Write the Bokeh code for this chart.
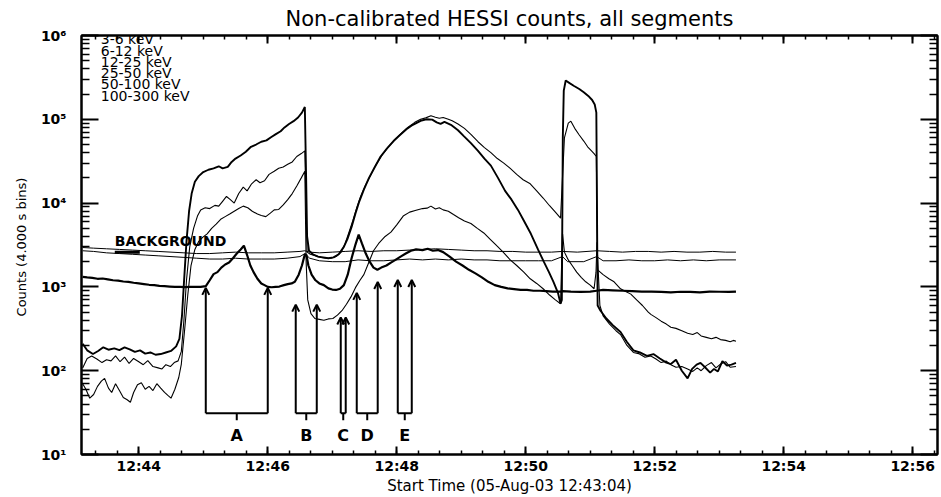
from bokeh.plotting import figure
from bokeh.models import Range1d, FixedTicker, LinearAxis, LogAxis, Arrow, OpenHead, ColumnDataSource
from bokeh.core.properties import value
from bokeh.embed import file_html
from bokeh.resources import INLINE

FONT = "DejaVu Sans"

# ---------------- data (time in decimal minutes after 12:00 UT, counts per 4 s bin) -------------
t_3_6 = [43.13, 43.20, 43.29, 43.37, 43.45, 43.53, 43.62, 43.70, 43.78, 43.86, 43.94, 44.02, 44.10, 44.18,
         44.26, 44.34, 44.42, 44.50, 44.58, 44.63, 44.67, 44.70, 44.74, 44.78, 44.82, 44.87, 44.93, 45.00,
         45.08, 45.16, 45.24, 45.30, 45.38, 45.44, 45.50, 45.58, 45.66, 45.74, 45.82, 45.90, 45.98, 46.05,
         46.12, 46.20, 46.26, 46.33, 46.40, 46.47, 46.53, 46.575, 46.595, 46.61, 46.64, 46.70, 46.78, 46.86,
         46.94, 47.02, 47.10, 47.18, 47.24, 47.30, 47.36, 47.42, 47.49, 47.57, 47.65, 47.75, 47.85, 47.95,
         48.05, 48.15, 48.25, 48.37, 48.46, 48.55, 48.62, 48.68, 48.74, 48.84, 48.95, 49.04, 49.15, 49.26,
         49.36, 49.46, 49.57, 49.68, 49.78, 49.88, 49.98, 50.08, 50.19, 50.28, 50.36, 50.43, 50.50, 50.54,
         50.56, 50.575, 50.59, 50.62, 50.68, 50.75, 50.83, 50.90, 50.97, 51.03, 51.07, 51.095, 51.115, 51.16,
         51.25, 51.35, 51.47, 51.57, 51.67, 51.77, 51.88, 51.98, 52.08, 52.18, 52.25, 52.33, 52.42, 52.51,
         52.58, 52.65, 52.71, 52.78, 52.86, 52.92, 52.98, 53.05, 53.12, 53.19, 53.26]
c_3_6 = [210, 175, 158, 172, 190, 178, 185, 176, 190, 180, 168, 175, 160, 165,
         155, 158, 165, 172, 195, 240, 450, 1100, 3500, 8000, 13000, 18000, 21000, 23500,
         25000, 26000, 27500, 26000, 27000, 31000, 34000, 37000, 41000, 47000, 50000, 54000, 56000, 61000,
         66000, 72000, 80000, 88000, 95000, 105000, 120000, 140000, 20000, 4000, 2700, 2450, 2300, 2250,
         2200, 2250, 2450, 3000, 3800, 5200, 7500, 10500, 14500, 20000, 26000, 36000, 45000, 55000,
         65000, 76000, 86000, 96000, 100000, 99000, 92000, 88000, 93000, 86000, 74000, 63000, 52000, 42000,
         34000, 28000, 20000, 14000, 11000, 8300, 6000, 4300, 2800, 2000, 1500, 1150, 850, 630,
         700, 60000, 220000, 290000, 270000, 250000, 230000, 210000, 190000, 170000, 150000, 120000, 600, 520,
         420, 350, 290, 220, 175, 165, 150, 158, 140, 125, 120, 135, 100, 81,
         105, 118, 124, 110, 95, 105, 98, 130, 115, 118, 124]

t_6_12 = [43.13, 43.20, 43.27, 43.35, 43.43, 43.50, 43.57, 43.64, 43.71, 43.78, 43.85, 43.92, 44.00, 44.07,
          44.14, 44.22, 44.30, 44.36, 44.42, 44.49, 44.55, 44.61, 44.66, 44.70, 44.74, 44.79, 44.85, 44.91,
          44.96, 45.03, 45.10, 45.18, 45.24, 45.30, 45.36, 45.42, 45.48, 45.55, 45.62, 45.68, 45.75, 45.82,
          45.88, 45.95, 46.02, 46.10, 46.17, 46.24, 46.31, 46.38, 46.45, 46.52, 46.575, 46.595, 46.61, 46.66,
          46.74, 46.82, 46.90, 46.98, 47.06, 47.14, 47.20, 47.26, 47.32, 47.38, 47.44, 47.51, 47.59, 47.67,
          47.77, 47.87, 47.97, 48.07, 48.17, 48.28, 48.37, 48.45, 48.53, 48.60, 48.66, 48.72, 48.80, 48.86,
          48.95, 49.05, 49.15, 49.26, 49.36, 49.46, 49.56, 49.66, 49.76, 49.86, 49.96, 50.07, 50.17, 50.27,
          50.37, 50.46, 50.54, 50.57, 50.60, 50.66, 50.70, 50.76, 50.83, 50.90, 50.96, 51.02, 51.06, 51.095,
          51.115, 51.20, 51.29, 51.37, 51.47, 51.55, 51.63, 51.72, 51.81, 51.90, 51.94, 52.02, 52.10, 52.18,
          52.25, 52.33, 52.42, 52.51, 52.59, 52.66, 52.72, 52.80, 52.88, 52.95, 53.02, 53.10, 53.17, 53.22, 53.26]
c_6_12 = [108, 140, 150, 138, 125, 135, 131, 150, 128, 145, 122, 140, 128, 118,
          132, 112, 108, 105, 118, 112, 125, 131, 170, 400, 1200, 3000, 5000, 7000,
          8300, 8800, 8600, 9400, 9200, 10500, 12000, 11000, 10000, 13000, 15500, 14000, 17000, 19000,
          17500, 18500, 22000, 24000, 26000, 27000, 29000, 31000, 36000, 39000, 42000, 8000, 2600, 2450,
          2350, 2250, 2200, 2200, 2300, 2600, 3300, 4500, 6200, 8800, 12000, 16000, 21000, 28000,
          37000, 47000, 57000, 68000, 80000, 92000, 100000, 104000, 110000, 106000, 103000, 105000, 100000, 96000,
          88000, 78000, 66000, 54000, 46000, 40000, 34000, 30000, 26000, 22000, 19000, 17000, 14000, 11500,
          9300, 7800, 6600, 20000, 60000, 90000, 95000, 78000, 65000, 55000, 47000, 42000, 39000, 36000,
          1600, 1400, 1250, 1150, 950, 880, 820, 700, 600, 500, 470, 430, 390, 360,
          330, 320, 300, 280, 270, 285, 260, 250, 240, 250, 235, 230, 222, 230, 225]

t_12_25 = [43.13, 43.18, 43.24, 43.30, 43.36, 43.42, 43.47, 43.53, 43.58, 43.64, 43.70, 43.76, 43.82, 43.87,
           43.92, 43.98, 44.04, 44.10, 44.16, 44.22, 44.28, 44.34, 44.40, 44.46, 44.50, 44.56, 44.62, 44.66,
           44.71, 44.76, 44.81, 44.87, 44.93, 44.99, 45.06, 45.13, 45.20, 45.27, 45.34, 45.41, 45.48, 45.55,
           45.62, 45.69, 45.76, 45.84, 45.90, 45.97, 46.04, 46.10, 46.17, 46.24, 46.31, 46.38, 46.45, 46.52,
           46.575, 46.595, 46.62, 46.67, 46.73, 46.80, 46.87, 46.94, 47.01, 47.08, 47.15, 47.22, 47.29, 47.36,
           47.43, 47.49, 47.56, 47.64, 47.72, 47.82, 47.91, 48.00, 48.10, 48.20, 48.30, 48.40, 48.47, 48.53,
           48.60, 48.66, 48.72, 48.80, 48.88, 48.96, 49.05, 49.15, 49.25, 49.35, 49.45, 49.55, 49.65, 49.76,
           49.86, 49.97, 50.07, 50.17, 50.27, 50.37, 50.46, 50.54, 50.57, 50.60, 50.66, 50.72, 50.79, 50.86,
           50.93, 51.00, 51.06, 51.09, 51.105, 51.12, 51.15, 51.20, 51.30, 51.40, 51.47, 51.57, 51.67, 51.75,
           51.85, 51.94, 52.02, 52.10, 52.18, 52.25, 52.33, 52.42, 52.51, 52.59, 52.66, 52.72, 52.80, 52.88,
           52.95, 53.02, 53.10, 53.17, 53.26]
c_12_25 = [70, 60, 47, 52, 65, 75, 81, 62, 55, 70, 58, 48, 45, 42,
           55, 68, 72, 60, 65, 58, 70, 62, 55, 50, 47, 60, 83, 120,
           300, 800, 1800, 2800, 3500, 3900, 4300, 5000, 5600, 6400, 6900, 7400, 8000, 8600,
           9200, 8800, 8000, 7400, 7100, 6900, 7600, 8300, 8400, 9500, 11000, 13000, 16000, 20000,
           24000, 2000, 700, 480, 420, 410, 400, 415, 420, 460, 520, 620, 760, 980,
           1200, 1400, 1900, 2700, 3300, 4000, 4500, 5500, 7000, 7800, 8200, 8600, 8700, 9200,
           8500, 8800, 8300, 8000, 7300, 6700, 6100, 5700, 5000, 4400, 3700, 3100, 2600, 2100,
           1800, 1500, 1250, 1100, 950, 800, 700, 630, 4400, 2600, 2100, 1800, 1500, 1300,
           1150, 1050, 950, 1500, 3400, 1800, 600, 450, 360, 300, 270, 200, 165, 160,
           145, 150, 138, 125, 130, 118, 110, 112, 105, 98, 108, 100, 115, 125,
           108, 120, 128, 110, 112]

t_25_50 = [43.13, 43.20, 43.28, 43.36, 43.44, 43.52, 43.60, 43.68, 43.76, 43.84, 43.92, 44.00, 44.08, 44.16,
           44.24, 44.32, 44.40, 44.48, 44.56, 44.64, 44.72, 44.80, 44.88, 44.96, 45.04, 45.10, 45.16, 45.22,
           45.28, 45.34, 45.40, 45.46, 45.52, 45.58, 45.63, 45.68, 45.73, 45.78, 45.84, 45.90, 45.95, 46.00,
           46.06, 46.12, 46.18, 46.25, 46.31, 46.37, 46.42, 46.48, 46.53, 46.575, 46.60, 46.63, 46.68, 46.74,
           46.80, 46.87, 46.94, 47.00, 47.06, 47.12, 47.18, 47.24, 47.30, 47.36, 47.41, 47.46, 47.52, 47.58,
           47.64, 47.70, 47.76, 47.84, 47.91, 47.98, 48.06, 48.14, 48.22, 48.30, 48.40, 48.48, 48.56, 48.64,
           48.72, 48.82, 48.92, 49.02, 49.12, 49.22, 49.32, 49.42, 49.52, 49.62, 49.72, 49.82, 49.92, 50.02,
           50.12, 50.22, 50.32, 50.42, 50.54, 50.57, 50.70, 50.85, 51.00, 51.10, 51.20, 51.35, 51.50, 51.65,
           51.80, 51.95, 52.10, 52.25, 52.40, 52.55, 52.70, 52.85, 53.00, 53.15, 53.26]
c_25_50 = [1320, 1300, 1280, 1250, 1260, 1230, 1200, 1190, 1160, 1150, 1120, 1100, 1080, 1060,
           1050, 1030, 1020, 1010, 1000, 1000, 995, 1000, 1000, 1000, 1020, 1200, 1420, 1500,
           1700, 1850, 1950, 2200, 2500, 2800, 3100, 2400, 1800, 1500, 1250, 1100, 1050, 1000,
           990, 1000, 1010, 1050, 1080, 1100, 1150, 1400, 1800, 2450, 2400, 1800, 1400, 1200,
           1100, 1050, 960, 930, 920, 950, 1050, 1400, 2200, 3200, 4200, 3300, 2500, 2000,
           1700, 1600, 1700, 1800, 1950, 2100, 2300, 2500, 2700, 2800, 2750, 2850, 2700, 2750,
           2600, 2300, 2000, 1800, 1600, 1450, 1300, 1150, 1050, 1000, 960, 940, 920, 920,
           900, 900, 890, 880, 880, 890, 880, 870, 880, 900, 920, 910, 900, 890,
           880, 880, 870, 860, 875, 870, 860, 880, 875, 870, 880]

t_50_100 = [43.13, 43.30, 43.50, 43.70, 43.90, 44.10, 44.30, 44.50, 44.70, 44.90, 45.10, 45.30, 45.50, 45.70,
            45.90, 46.10, 46.30, 46.50, 46.575, 46.65, 46.80, 47.00, 47.20, 47.40, 47.60, 47.80, 48.00, 48.20,
            48.40, 48.60, 48.80, 49.00, 49.20, 49.40, 49.60, 49.80, 50.00, 50.20, 50.40, 50.57, 50.65, 50.90,
            51.10, 51.20, 51.40, 51.60, 51.80, 52.00, 52.20, 52.40, 52.60, 52.80, 53.00, 53.26]
c_50_100 = [2700, 2650, 2550, 2500, 2450, 2400, 2350, 2300, 2250, 2200, 2150, 2150, 2200, 2150,
            2150, 2150, 2200, 2300, 2500, 2200, 2050, 2000, 2000, 2100, 2050, 2050, 2100, 2150,
            2100, 2150, 2100, 2150, 2100, 2100, 2050, 2050, 2050, 2050, 2050, 2300, 2000, 2000,
            2300, 2050, 2050, 2100, 2050, 2050, 2100, 2050, 2100, 2050, 2100, 2100]

t_100_300 = [43.13, 43.30, 43.50, 43.70, 43.90, 44.10, 44.30, 44.50, 44.70, 44.90, 45.10, 45.30, 45.50, 45.70,
             45.90, 46.10, 46.30, 46.50, 46.575, 46.65, 46.80, 47.00, 47.20, 47.40, 47.60, 47.80, 48.00, 48.20,
             48.40, 48.60, 48.80, 49.00, 49.20, 49.40, 49.60, 49.80, 50.00, 50.20, 50.40, 50.57, 50.80, 51.10,
             51.30, 51.50, 51.70, 51.90, 52.10, 52.30, 52.50, 52.70, 52.90, 53.10, 53.26]
c_100_300 = [2950, 2900, 2850, 2800, 2750, 2700, 2650, 2600, 2550, 2500, 2500, 2550, 2600, 2550,
             2550, 2550, 2600, 2650, 2700, 2600, 2550, 2600, 2650, 2700, 2650, 2700, 2700, 2750,
             2800, 2850, 2800, 2750, 2700, 2700, 2650, 2650, 2600, 2600, 2600, 2650, 2600, 2700,
             2650, 2600, 2650, 2650, 2600, 2650, 2600, 2600, 2650, 2600, 2600]

legend_labels = ["3-6 keV", "6-12 keV", "12-25 keV", "25-50 keV", "50-100 keV", "100-300 keV"]

# interval annotations A-E
interval_labels = ["A", "B", "C", "D", "E"]
interval_start = [45.039, 46.434, 47.132, 47.380, 48.016]
interval_end = [46.000, 46.760, 47.209, 47.705, 48.233]
arrow_tip_start = [973, 614, 432, 849, 1208]
arrow_tip_end = [973, 614, 432, 1145, 1208]
bracket_level = 31
bracket_tick_level = 25.7
bracket_label_level = 17

background_label = "BACKGROUND"
background_label_pos = (43.628, 3570)
background_pointer = (43.628, 44.016, 2600)

x_tick_values = [44, 46, 48, 50, 52, 54, 56]
x_tick_labels = ["12:44", "12:46", "12:48", "12:50", "12:52", "12:54", "12:56"]
y_tick_values = [10, 100, 1000, 10000, 100000, 1000000]
y_tick_labels = ["10\u00b9", "10\u00b2", "10\u00b3", "10\u2074", "10\u2075", "10\u2076"]

# ---------------- figure ----------------
p = figure(width=941, height=497, x_range=Range1d(43.112, 56.385), y_range=Range1d(10, 1e6),
           y_axis_type="log", output_backend="svg", toolbar_location=None,
           title="Non-calibrated HESSI counts, all segments",
           min_border_left=81, min_border_right=4, min_border_top=30, min_border_bottom=42)
p.title.align = "center"
p.title.text_font = FONT
p.title.text_font_size = "21px"
p.title.text_font_style = "normal"
p.title.text_color = "black"
p.title.standoff = 9
p.grid.visible = False
p.outline_line_color = "black"
p.outline_line_width = 2
p.background_fill_color = "white"
p.border_fill_color = "white"

x_minor = [43 + k / 3 for k in range(0, 41)]
y_minor = [m * 10 ** e for e in range(1, 6) for m in range(2, 10)]
xticker = FixedTicker(ticks=x_tick_values, minor_ticks=x_minor)
yticker = FixedTicker(ticks=y_tick_values, minor_ticks=y_minor)


def style(ax, maj, mnr, labels=True):
    ax.axis_line_color = "black"
    ax.axis_line_width = 2
    ax.major_tick_in = maj
    ax.major_tick_out = 0
    ax.minor_tick_in = mnr
    ax.minor_tick_out = 0
    ax.major_tick_line_width = 2
    ax.minor_tick_line_width = 1.5
    ax.major_tick_line_color = "black"
    ax.minor_tick_line_color = "black"
    if labels:
        ax.major_label_text_font = FONT
        ax.major_label_text_font_style = "bold"
        ax.major_label_text_font_size = "14px"
        ax.major_label_text_color = "black"
    else:
        ax.major_label_text_font_size = "1px"
        ax.major_label_text_color = None
        ax.major_label_text_alpha = 0
        ax.major_label_standoff = 0


xb = p.below[0]
xb.ticker = xticker
xb.major_label_overrides = dict(zip(x_tick_values, x_tick_labels))
style(xb, 8, 4)
xb.major_label_standoff = 3
xb.axis_label = "Start Time (05-Aug-03 12:43:04)"
xb.axis_label_text_font = FONT
xb.axis_label_text_font_size = "15px"
xb.axis_label_text_font_style = "normal"
xb.axis_label_text_color = "black"
xb.axis_label_standoff = 0

yl = p.left[0]
yl.ticker = yticker
yl.major_label_overrides = dict(zip(y_tick_values, y_tick_labels))
style(yl, 17, 8)
yl.major_label_standoff = 15
yl.axis_label = "Counts  (4.000 s bins)"
yl.axis_label_text_font = FONT
yl.axis_label_text_font_size = "13px"
yl.axis_label_text_font_style = "normal"
yl.axis_label_text_color = "black"
yl.axis_label_standoff = 9

xt = LinearAxis(ticker=xticker)
style(xt, 8, 4, labels=False)
p.add_layout(xt, "above")
yr = LogAxis(ticker=yticker)
style(yr, 17, 8, labels=False)
p.add_layout(yr, "right")

# ---------------- data lines ----------------
series = [
    (t_3_6, c_3_6, 1.9),
    (t_6_12, c_6_12, 1.1),
    (t_12_25, c_12_25, 1.1),
    (t_25_50, c_25_50, 2.2),
    (t_50_100, c_50_100, 1.0),
    (t_100_300, c_100_300, 1.0),
]
for t, c, w in series:
    p.line(t, c, line_color="black", line_width=w)

# legend text (no swatches, as in the original)
p.text(x=[43.41] * len(legend_labels), y=[10 ** (5.953 - 0.134 * i) for i in range(len(legend_labels))],
       text=legend_labels, text_font=value(FONT), text_font_size="14px", text_color="black",
       text_baseline="middle", text_align="left")

# background label + pointer
p.text(x=[background_label_pos[0]], y=[background_label_pos[1]], text=[background_label],
       text_font=value(FONT), text_font_size="14px", text_font_style="bold", text_color="black",
       text_baseline="middle", text_align="left")
p.segment(x0=[background_pointer[0]], y0=[background_pointer[2]], x1=[background_pointer[1]],
          y1=[background_pointer[2]], line_color="black", line_width=3)

# interval brackets with arrows
n = len(interval_labels)
arrow_src = ColumnDataSource(dict(
    x0=interval_start + interval_end,
    y0=[bracket_level] * (2 * n),
    x1=interval_start + interval_end,
    y1=arrow_tip_start + arrow_tip_end,
))
p.add_layout(Arrow(end=OpenHead(size=7, line_width=2, line_color="black"), x_start="x0", y_start="y0",
                   x_end="x1", y_end="y1", source=arrow_src, line_width=2, line_color="black"))
p.segment(x0=interval_start, y0=[bracket_level] * n, x1=interval_end, y1=[bracket_level] * n,
          line_color="black", line_width=2)
mids = [(a + b) / 2 for a, b in zip(interval_start, interval_end)]
p.segment(x0=mids, y0=[bracket_level] * n, x1=mids, y1=[bracket_tick_level] * n,
          line_color="black", line_width=2)
p.text(x=mids, y=[bracket_label_level] * n, text=interval_labels, text_font=value(FONT),
       text_font_size="16px", text_font_style="bold", text_color="black",
       text_align="center", text_baseline="middle")

open("out.html", "w").write(file_html(p, INLINE))
